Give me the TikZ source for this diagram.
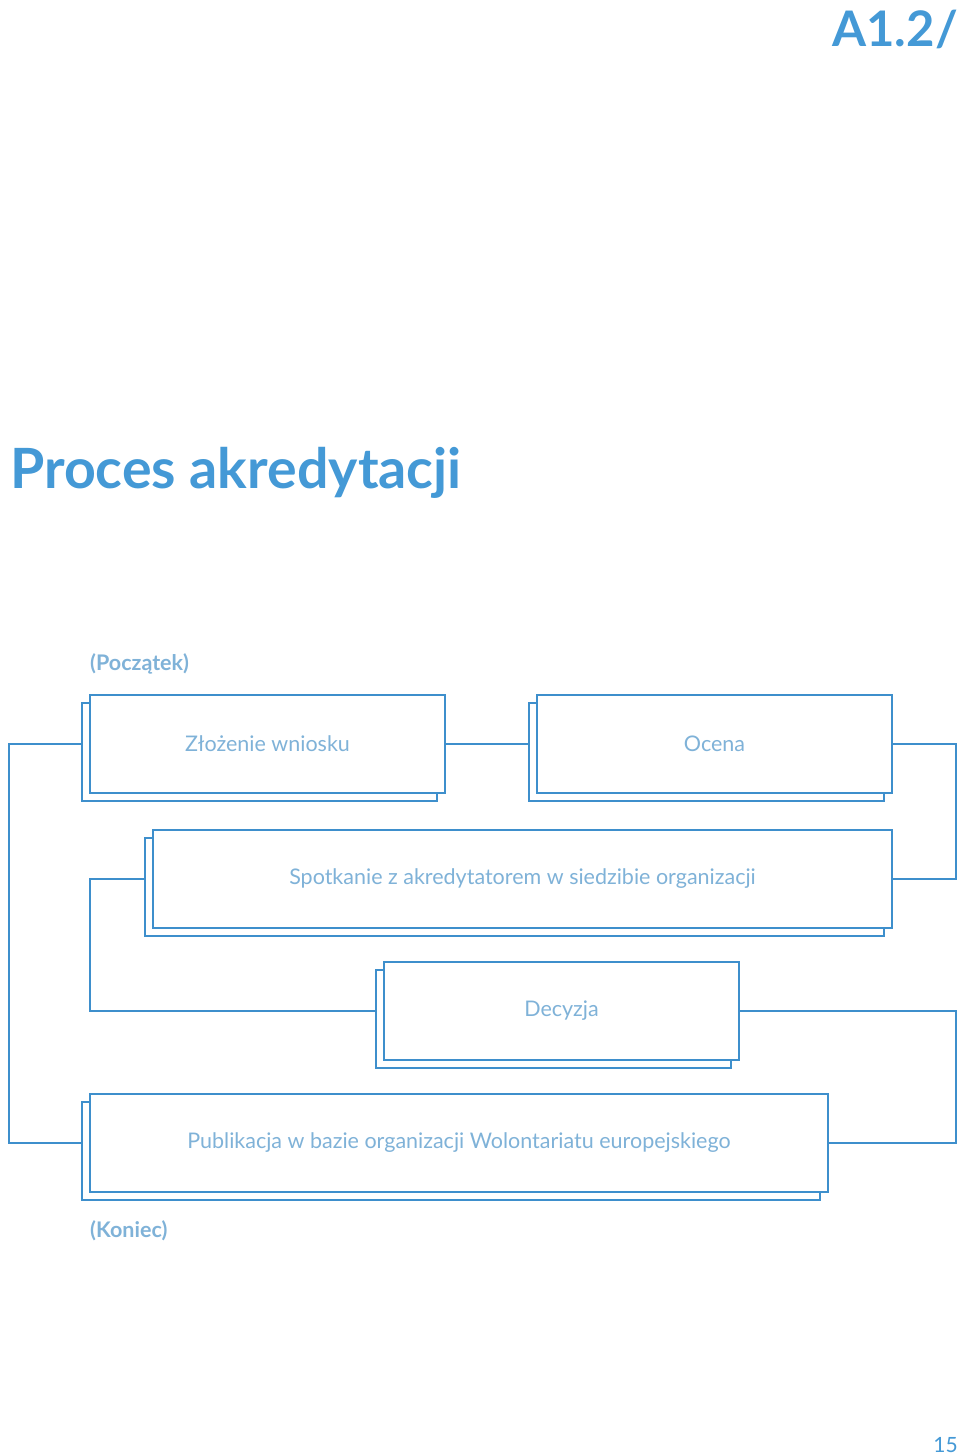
\documentclass[tikz,border=0pt]{standalone}
\usepackage{fontspec}
\setmainfont{Lato}
\definecolor{ln}{HTML}{3E8FCC}
\definecolor{tt}{HTML}{4499D6}
\definecolor{bt}{HTML}{7FB2D8}
\begin{document}
\begin{tikzpicture}[x=1pt,y=-1pt,
  ln/.style={draw=ln,line width=2.2pt},
  btxt/.style={text=bt,font=\fontsize{21.5}{24}\selectfont}]
\useasboundingbox[fill=white] (0,0) rectangle (960,1455);
\newcommand\mybox[6]{%
  \draw[ln,fill=white] (#1-8,#3+8) rectangle (#2-8,#4+8);
  \draw[ln,fill=white] (#1,#3) rectangle (#2,#4);
  \node[btxt,inner sep=0] (#5) at ({(#1+#2)/2},{(#3+#4)/2}) {#6};
  \coordinate (#5L) at (#1-8,{(#3+#4)/2});
  \coordinate (#5R) at (#2,{(#3+#4)/2});}
\mybox{90}{445}{695}{793}{a}{Złożenie wniosku}
\mybox{537}{892}{695}{793}{b}{Ocena}
\mybox{153}{892}{830}{928}{c}{Spotkanie z akredytatorem w siedzibie organizacji}
\mybox{384}{739}{962}{1060}{d}{Decyzja}
\mybox{90}{828}{1094}{1192}{e}{Publikacja w bazie organizacji Wolontariatu europejskiego}
\draw[ln] (aR) -- (bL);
\draw[ln] (bR) -- (bR -| 956,0) -- (cR -| 956,0) -- (cR);
\draw[ln] (cL) -- (cL -| 90,0) -- (dL -| 90,0) -- (dL);
\draw[ln] (dR) -- (dR -| 956,0) -- (eR -| 956,0) -- (eR);
\draw[ln] (eL) -- (eL -| 9,0) -- (aL -| 9,0) -- (aL);
\node[anchor=base west,inner sep=0,text=tt,font=\bfseries\fontsize{55.5}{60}\selectfont] (t) at (10,488) {Proces akredytacji};
\node[anchor=base east,inner sep=0,text=tt,font=\bfseries\fontsize{49}{54}\selectfont] (h) at (958,47) {A1.2/};
\node[anchor=base west,inner sep=0,text=bt,font=\bfseries\fontsize{21.5}{24}\selectfont] (p) at (90,670) {(Początek)};
\node[anchor=base west,inner sep=0,text=bt,font=\bfseries\fontsize{21.5}{24}\selectfont] (k) at (90,1237) {(Koniec)};
\node[anchor=base east,inner sep=0,text=tt,font=\fontsize{21}{24}\selectfont] (n) at (958,1452) {15};
\end{tikzpicture}
\end{document}
